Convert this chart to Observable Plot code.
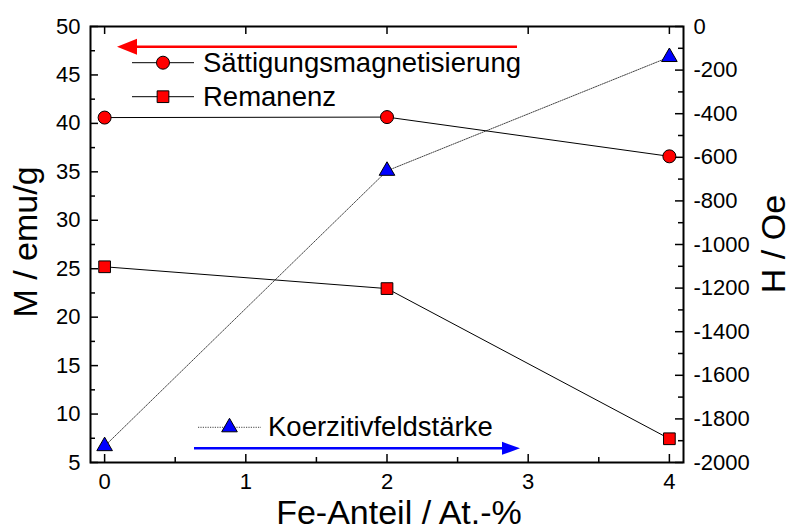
<!DOCTYPE html>
<html><head><meta charset="utf-8">
<script src="https://cdn.jsdelivr.net/npm/d3@7"></script>
<script src="https://cdn.jsdelivr.net/npm/@observablehq/plot@0.6"></script>
<style>
body{margin:0;background:#fff}
svg{font-family:"Liberation Sans",Arial,sans-serif}
</style>
</head><body><div id="chart"></div>
<script>
// ---- data ----
const feAnteil = [0, 2, 4];
const saettigung = [40.6, 40.65, 36.6];
const remanenz = [25.2, 22.95, 7.45];
const koerzitiv = [-1925, -662, -140];
const xTicks = [0, 1, 2, 3, 4];
const xMinor = [0.5, 1.5, 2.5, 3.5];
const mTicks = [5, 10, 15, 20, 25, 30, 35, 40, 45, 50];
const mMinor = [7.5, 12.5, 17.5, 22.5, 27.5, 32.5, 37.5, 42.5, 47.5];
const hTicks = [0, -200, -400, -600, -800, -1000, -1200, -1400, -1600, -1800, -2000];
const hMinor = [-100, -300, -500, -700, -900, -1100, -1300, -1500, -1700, -1900];
const labels = {
  x: "Fe-Anteil / At.-%",
  yLeft: "M / emu/g",
  yRight: "H / Oe",
  sat: "Sättigungsmagnetisierung",
  rem: "Remanenz",
  koe: "Koerzitivfeldstärke"
};

// ---- layout ----
const W = 792, H = 530;
const mL = 90, mR = 109, mT = 26, mB = 68;
const plotW = W - mL - mR, plotH = H - mT - mB;
const majorLen = 8, minorLen = 5;

// right axis (H) mapped into the left (M) scale space
const hToM = d3.scaleLinear().domain([-2000, 0]).range([5, 50]);

const satData = feAnteil.map((x, i) => ({x, y: saettigung[i]}));
const remData = feAnteil.map((x, i) => ({x, y: remanenz[i]}));
const koeData = feAnteil.map((x, i) => ({x, y: hToM(koerzitiv[i])}));

const chart = Plot.plot({
  width: W, height: H,
  marginLeft: mL, marginRight: mR, marginTop: mT, marginBottom: mB,
  style: {fontSize: "22px", fontFamily: "'Liberation Sans', Arial, sans-serif", color: "black", background: "white"},
  x: {domain: [-0.1, 4.1]},
  y: {domain: [5, 50]},
  marks: [
    // inward ticks
    Plot.tickY(mTicks, {y: d => d, insetRight: plotW - majorLen, stroke: "black", strokeWidth: 1.5}),
    Plot.tickY(mMinor, {y: d => d, insetRight: plotW - minorLen, stroke: "black", strokeWidth: 1.5}),
    Plot.tickY(hTicks.map(hToM), {y: d => d, insetLeft: plotW - majorLen, stroke: "black", strokeWidth: 1.5}),
    Plot.tickY(hMinor.map(hToM), {y: d => d, insetLeft: plotW - minorLen, stroke: "black", strokeWidth: 1.5}),
    Plot.tickX(xTicks, {x: d => d, insetTop: plotH - majorLen, stroke: "black", strokeWidth: 1.5}),
    Plot.tickX(xMinor, {x: d => d, insetTop: plotH - minorLen, stroke: "black", strokeWidth: 1.5}),
    Plot.tickX(xTicks, {x: d => d, insetBottom: plotH - majorLen, stroke: "black", strokeWidth: 1.5}),
    // axes labels
    Plot.axisY(mTicks, {anchor: "left", tickSize: 0, tickPadding: 10, label: null, tickFormat: d => String(d)}),
    Plot.axisY(hTicks.map(hToM), {anchor: "right", tickSize: 0, tickPadding: 10, label: null,
      tickFormat: d => String(Math.round(hToM.invert(d)))}),
    Plot.axisX(xTicks, {anchor: "bottom", tickSize: 0, tickPadding: 11, label: null, tickFormat: d => String(d)}),
    // series lines
    Plot.line(koeData, {x: "x", y: "y", stroke: "#444", strokeWidth: 1, strokeDasharray: "1.2,1.2"}),
    Plot.line(satData, {x: "x", y: "y", stroke: "black", strokeWidth: 1}),
    Plot.line(remData, {x: "x", y: "y", stroke: "black", strokeWidth: 1}),
    // markers
    Plot.dot(satData, {x: "x", y: "y", symbol: "circle", r: 6.5, fill: "#ff0000", stroke: "black", strokeWidth: 1}),
    Plot.dot(remData, {x: "x", y: "y", symbol: "square", r: 6.6, fill: "#ff0000", stroke: "black", strokeWidth: 1}),
    Plot.dot(koeData, {x: "x", y: "y", symbol: "triangle", r: 5.8, fill: "#0000ff", stroke: "black", strokeWidth: 1}),
    Plot.frame({stroke: "black", strokeWidth: 2})
  ]
});

// ---- legend, arrows, titles (pixel layout) ----
const svg = d3.select(chart);
const g = svg.append("g")
  .attr("font-family", "'Liberation Sans', Arial, sans-serif")
  .attr("text-anchor", "start");

// red arrow (left axis)
g.append("line").attr("x1", 517).attr("x2", 134).attr("y1", 46.7).attr("y2", 46.7)
  .attr("stroke", "#ff0000").attr("stroke-width", 2.5);
g.append("path").attr("d", "M117,46.7 L137,38.7 L137,54.7 Z").attr("fill", "#ff0000");

// blue arrow (right axis)
g.append("line").attr("x1", 194).attr("x2", 504).attr("y1", 448.3).attr("y2", 448.3)
  .attr("stroke", "#0000ff").attr("stroke-width", 2.5);
g.append("path").attr("d", "M520,448.3 L502,441.8 L502,454.8 Z").attr("fill", "#0000ff");

// legend entries
const legendEntries = [
  {y: 62.7, text: labels.sat, sym: d3.symbolCircle, size: Math.PI * 6.5 * 6.5, fill: "#ff0000", dash: null, x0: 132, x1: 194, tx: 203, base: 72},
  {y: 96.7, text: labels.rem, sym: d3.symbolSquare, size: Math.PI * 6.6 * 6.6, fill: "#ff0000", dash: null, x0: 132, x1: 194, tx: 203, base: 106},
  {y: 427.3, text: labels.koe, sym: d3.symbolTriangle, size: Math.PI * 5.8 * 5.8, fill: "#0000ff", dash: "1.2,1.2", x0: 198, x1: 261, tx: 268, base: 436}
];
for (const e of legendEntries) {
  const ln = g.append("line").attr("x1", e.x0).attr("x2", e.x1).attr("y1", e.y).attr("y2", e.y)
    .attr("stroke", e.dash ? "#444" : "black").attr("stroke-width", 1);
  if (e.dash) ln.attr("stroke-dasharray", e.dash);
  g.append("path").attr("d", d3.symbol(e.sym, e.size)())
    .attr("transform", `translate(${(e.x0 + e.x1) / 2},${e.y})`)
    .attr("fill", e.fill).attr("stroke", "black").attr("stroke-width", 1);
  g.append("text").attr("x", e.tx).attr("y", e.base).attr("text-anchor", "start")
    .attr("font-size", 27.5).attr("fill", "black").text(e.text);
}

// axis titles
g.append("text").attr("transform", "translate(37,242) rotate(-90)").attr("text-anchor", "middle")
  .attr("font-size", 34).attr("fill", "black").text(labels.yLeft);
g.append("text").attr("transform", "translate(785,244) rotate(-90)").attr("text-anchor", "middle")
  .attr("font-size", 34).attr("fill", "black").text(labels.yRight);
g.append("text").attr("x", 399).attr("y", 524).attr("text-anchor", "middle")
  .attr("font-size", 34).attr("fill", "black").text(labels.x);

document.getElementById("chart").appendChild(chart);
</script>
</body></html>
